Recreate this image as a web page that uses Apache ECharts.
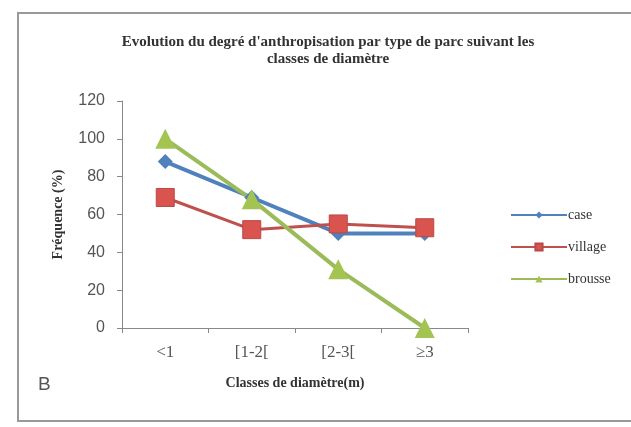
<!DOCTYPE html>
<html>
<head>
<meta charset="utf-8">
<script src="https://cdn.jsdelivr.net/npm/echarts@6/dist/echarts.min.js"></script>
<style>
html,body{margin:0;padding:0;background:#fff;}
#chart{width:631px;height:427px;}
</style>
</head>
<body>
<div id="chart"></div>
<script>
// classes de diamètre
var categories = ['<1', '[1-2[', '[2-3[', '≥3'];
var yTicks = [0, 20, 40, 60, 80, 100, 120];
// fréquences (%)
var caseVals = [88, 69, 50, 50];
var villageVals = [69, 52, 55, 53];
var brousseVals = [100, 68, 31, 0];

var myChart = echarts.init(document.getElementById('chart'));

var option = {
    backgroundColor: '#fff',
    animation: false,
    title: {
        text: "Evolution du degré d'anthropisation par type de parc suivant les\nclasses de diamètre",
        left: 323,
        top: 29,
        textAlign: 'center',
        textStyle: {
            fontFamily: 'Liberation Serif',
            fontWeight: 'bold',
            fontSize: 15,
            color: '#333',
            lineHeight: 17
        }
    },
    legend: {
        orient: 'vertical',
        left: 505,
        top: 203,
        itemWidth: 56,
        itemHeight: 9,
        itemGap: 18,
        textStyle: { fontFamily: 'Liberation Serif', fontSize: 14, color: '#333', padding: [0, 0, 0, -4] },
        data: ['case', 'village', 'brousse']
    },
    grid: { left: 122, right: 163, top: 101, bottom: 99 },
    xAxis: {
        type: 'category',
        data: categories,
        name: 'Classes de diamètre(m)',
        nameLocation: 'middle',
        nameGap: 48,
        nameTextStyle: { fontFamily: 'Liberation Serif', fontWeight: 'bold', fontSize: 14, color: '#333' },
        axisLine: { lineStyle: { color: '#888', width: 1 } },
        axisTick: { show: true, length: 5, lineStyle: { color: '#888' } },
        axisLabel: { fontFamily: 'Liberation Serif', fontSize: 17, color: '#555', margin: 16 },
        splitLine: { show: false }
    },
    yAxis: {
        type: 'value',
        min: 0,
        max: 120,
        interval: 20,
        name: 'Fréquence (%)',
        nameLocation: 'middle',
        nameGap: 57,
        nameTextStyle: { fontFamily: 'Liberation Serif', fontWeight: 'bold', fontSize: 14, color: '#333' },
        axisLine: { show: true, lineStyle: { color: '#888', width: 1 } },
        axisTick: { show: true, length: 5, lineStyle: { color: '#888' } },
        axisLabel: {
            fontFamily: 'Liberation Sans', fontSize: 16, color: '#555', margin: 17,
            formatter: function (v) { return yTicks.indexOf(v) >= 0 ? String(v) : ''; }
        },
        splitLine: { show: false }
    },
    series: [
        {
            name: 'case', type: 'line', data: caseVals,
            symbol: 'diamond', symbolSize: 15,
            lineStyle: { color: '#4F81BD', width: 4 },
            itemStyle: { color: '#4F81BD' }
        },
        {
            name: 'village', type: 'line', data: villageVals,
            symbol: 'rect', symbolSize: 18,
            lineStyle: { color: '#C0504D', width: 3 },
            itemStyle: { color: '#D9534F', borderColor: '#B84A46', borderWidth: 1 }
        },
        {
            name: 'brousse', type: 'line', data: brousseVals,
            symbol: 'triangle', symbolSize: 20,
            lineStyle: { color: '#9BBB59', width: 4 },
            itemStyle: { color: '#A3C451' }
        }
    ],
    graphic: [
        {
            type: 'rect',
            shape: { x: 18, y: 13, width: 640, height: 408 },
            style: { fill: 'none', stroke: '#999', lineWidth: 2 },
            silent: true
        },
        {
            type: 'text',
            left: 38,
            top: 375,
            style: { text: 'B', fontFamily: 'Liberation Sans', fontSize: 19, fill: '#555' }
        }
    ]
};

myChart.setOption(option);
</script>
</body>
</html>
